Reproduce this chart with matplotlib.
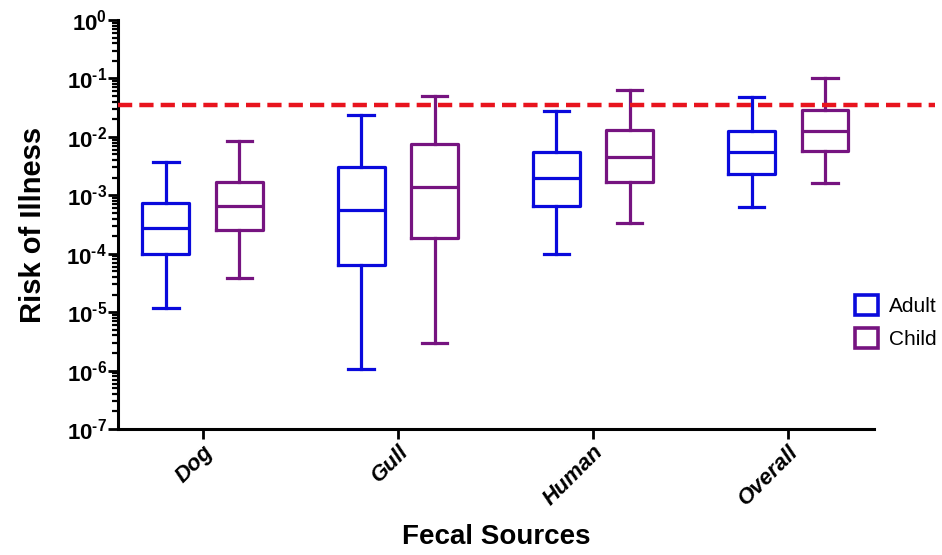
import matplotlib
matplotlib.use("Agg")
import matplotlib.pyplot as plt
from matplotlib.patches import Patch
from matplotlib.ticker import LogLocator, FuncFormatter, NullFormatter
import matplotlib.transforms as mtransforms
import numpy as np

plt.rcParams['font.family'] = ['Liberation Sans', 'DejaVu Sans']
plt.rcParams['mathtext.fontset'] = 'custom'
plt.rcParams['mathtext.rm'] = 'Liberation Sans:bold'
plt.rcParams['mathtext.bf'] = 'Liberation Sans:bold'
plt.rcParams['mathtext.it'] = 'Liberation Sans:bold:italic'

categories = ["Dog", "Gull", "Human", "Overall"]
series = ["Adult", "Child"]

# whislo, q1, median, q3, whishi
adult_whislo = [1.18e-5, 1.07e-6, 9.8e-5, 6.4e-4]
adult_q1     = [9.8e-5, 6.4e-5, 6.5e-4, 2.28e-3]
adult_med    = [2.8e-4, 5.6e-4, 1.95e-3, 5.4e-3]
adult_q3     = [7.3e-4, 3.1e-3, 5.6e-3, 1.26e-2]
adult_whishi = [3.7e-3, 2.36e-2, 2.8e-2, 4.9e-2]

child_whislo = [3.9e-5, 3.0e-6, 3.3e-4, 1.65e-3]
child_q1     = [2.54e-4, 1.83e-4, 1.7e-3, 5.8e-3]
child_med    = [6.6e-4, 1.4e-3, 4.6e-3, 1.27e-2]
child_q3     = [1.7e-3, 7.4e-3, 1.31e-2, 2.87e-2]
child_whishi = [8.6e-3, 5.0e-2, 6.3e-2, 1.0e-1]

threshold = 0.035

colors = {"Adult": "#0A0ADC", "Child": "#761480"}

fig = plt.figure(figsize=(9.42, 5.55), dpi=100)
ax = fig.add_axes([0.1253, 0.227, 0.8027, 0.737])

def stats(lo, q1, med, q3, hi):
    return [dict(whislo=a, q1=b, med=c, q3=d, whishi=e, fliers=[])
            for a, b, c, d, e in zip(lo, q1, med, q3, hi)]

x = np.arange(len(categories))
offset = 0.188
bw = 0.24
lw = 2.3
for name, st, sign in [("Adult", stats(adult_whislo, adult_q1, adult_med, adult_q3, adult_whishi), -1),
                       ("Child", stats(child_whislo, child_q1, child_med, child_q3, child_whishi), 1)]:
    c = colors[name]
    ax.bxp(st, positions=x + sign * offset, widths=bw, capwidths=0.13,
           showfliers=False, manage_ticks=False,
           boxprops=dict(color=c, linewidth=lw),
           whiskerprops=dict(color=c, linewidth=lw),
           capprops=dict(color=c, linewidth=lw),
           medianprops=dict(color=c, linewidth=lw))

ax.set_yscale('log')
ax.set_ylim(1e-7, 1e0)
ax.set_xlim(-0.433, 3.44)

# threshold line, extends beyond the axis end
trans = mtransforms.blended_transform_factory(ax.transAxes, ax.transData)
ax.plot([0, 1.08], [threshold, threshold], transform=trans, color='#E8141E',
        linestyle=(0, (3.2, 1.6)), linewidth=3.2, clip_on=False, zorder=5)

ax.yaxis.set_major_locator(LogLocator(base=10, numticks=20))
ax.yaxis.set_minor_locator(LogLocator(base=10, subs=np.arange(2, 10), numticks=20))
ax.yaxis.set_minor_formatter(NullFormatter())
def fmt(v, p):
    e = int(round(np.log10(v)))
    if e < 0:
        return r'$10^{\text{-}%d}$' % (-e)
    return r'$10^{%d}$' % e
ax.yaxis.set_major_formatter(FuncFormatter(fmt))

for s in ['top', 'right']:
    ax.spines[s].set_visible(False)
for s in ['left', 'bottom']:
    ax.spines[s].set_linewidth(2.2)

ax.tick_params(axis='y', which='major', length=7, width=2.0, labelsize=16, pad=1)
ax.tick_params(axis='y', which='minor', length=4, width=1.6)
ax.tick_params(axis='x', which='major', length=7, width=2.0, pad=2)

ax.set_xticks(x)
ax.set_xticklabels(categories, rotation=45, ha='right', rotation_mode='anchor',
                   fontsize=16, fontweight='bold', fontstyle='italic')

ax.set_ylabel("Risk of Illness", fontsize=21, fontweight='bold', labelpad=14)
ax.set_xlabel("Fecal Sources", fontsize=20, fontweight='bold', labelpad=10)

handles = [Patch(facecolor='white', edgecolor=colors[n], linewidth=2.6, label=n) for n in series]
fig.legend(handles=handles, loc='center left', bbox_to_anchor=(0.899, 0.42),
           frameon=False, fontsize=15, handlelength=1.1, handleheight=1.1,
           handletextpad=0.5, labelspacing=0.6, borderaxespad=0)

fig.savefig("out.png", dpi=100)
